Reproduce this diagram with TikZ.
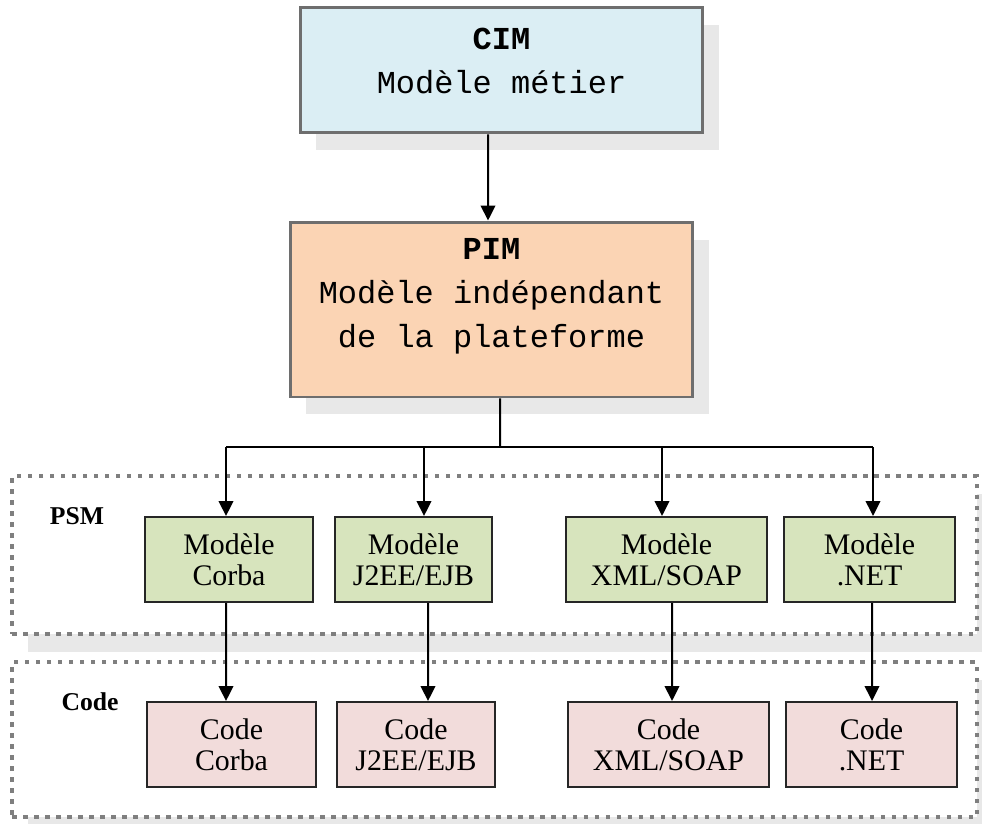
\documentclass[tikz,border=0pt]{standalone}
\usepackage{fontspec}
\setmainfont{Liberation Serif}
\setmonofont{Liberation Mono}
\usetikzlibrary{arrows.meta,shadows}

\definecolor{cimblue}{HTML}{DBEEF4}
\definecolor{pimorange}{HTML}{FBD4B4}
\definecolor{psmgreen}{HTML}{D7E4BD}
\definecolor{codepink}{HTML}{F2DCDB}
\definecolor{shadowgray}{HTML}{E8E8E8}
\definecolor{boxgray}{HTML}{6E6E6E}
\definecolor{dotgray}{HTML}{7F7F7F}

\tikzset{
  bigbox/.style={draw=boxgray, line width=0.06cm,
    drop shadow={shadow xshift=0.32cm, shadow yshift=-0.35cm, fill=shadowgray, opacity=1}},
  monotext/.style={font=\fontsize{18.2}{25}\selectfont\ttfamily, align=center},
  smallbox/.style={draw=black!85, line width=0.04cm, minimum height=1.7cm,
    font=\fontsize{17}{17.6}\selectfont, align=center},
  groupframe/.style={draw=dotgray, line width=0.09cm, dash pattern=on 0.09cm off 0.13cm,
    fill=white, minimum width=19.3cm,
    drop shadow={shadow xshift=0.32cm, shadow yshift=-0.35cm, fill=shadowgray, opacity=1}},
  grouplabel/.style={font=\fontsize{14.6}{15}\selectfont\bfseries}
}

\begin{document}
\begin{tikzpicture}[x=0.02cm, y=-0.02cm, line width=0.04cm, >={Triangle[width=0.29cm,length=0.3cm]}]
\useasboundingbox (0,0) rectangle (982,823);

\node[groupframe, minimum height=3.16cm] (psmframe) at (494.5,555) {};
\node[groupframe, minimum height=3.1cm] (codeframe) at (494.5,739.5) {};
\node[grouplabel] (psmlabel) at (77,516) {PSM};
\node[grouplabel] (codelabel) at (90,702) {Code};

\node[bigbox, fill=cimblue, minimum width=8.06cm, minimum height=2.52cm] (cim) at (501.5,70) {};
\node[monotext] (cimtext) at (501.5,61) {\textbf{CIM}\\Modèle métier};

\node[bigbox, fill=pimorange, minimum width=8.06cm, minimum height=3.5cm] (pim) at (491.5,309.5) {};
\node[monotext] (pimtext) at (491.5,296) {\textbf{PIM}\\Modèle indépendant\\de la plateforme};

\node[smallbox, fill=psmgreen, minimum width=3.36cm] (m1) at (229,559.5) {Modèle\\Corba};
\node[smallbox, fill=psmgreen, minimum width=3.14cm] (m2) at (413.5,559.5) {Modèle\\J2EE/EJB};
\node[smallbox, fill=psmgreen, minimum width=4.02cm] (m3) at (666.5,559.5) {Modèle\\XML/SOAP};
\node[smallbox, fill=psmgreen, minimum width=3.42cm] (m4) at (869.5,559.5) {Modèle\\.NET};

\node[smallbox, fill=codepink, minimum width=3.38cm] (k1) at (231.5,744.5) {Code\\Corba};
\node[smallbox, fill=codepink, minimum width=3.16cm] (k2) at (416,744.5) {Code\\J2EE/EJB};
\node[smallbox, fill=codepink, minimum width=4.02cm] (k3) at (668.5,744.5) {Code\\XML/SOAP};
\node[smallbox, fill=codepink, minimum width=3.42cm] (k4) at (871.5,744.5) {Code\\.NET};

\draw[->] ([xshift=-0.27cm]cim.south) -- ([xshift=-0.07cm]pim.north);

\coordinate (split) at (500,447);
\coordinate (b1) at (226,447);
\coordinate (b2) at (424,447);
\coordinate (b3) at (662,447);
\coordinate (b4) at (873,447);
\draw ([xshift=0.17cm]pim.south) -- (split);
\draw (b1) -- (b4);
\draw[->] (b1) -- (b1 |- m1.north);
\draw[->] (b2) -- (b2 |- m2.north);
\draw[->] (b3) -- (b3 |- m3.north);
\draw[->] (b4) -- (b4 |- m4.north);

\draw[->] ([xshift=-0.06cm]m1.south) -- ([xshift=-0.11cm]k1.north);
\draw[->] ([xshift=0.29cm]m2.south) -- ([xshift=0.24cm]k2.north);
\draw[->] ([xshift=0.11cm]m3.south) -- ([xshift=0.07cm]k3.north);
\draw[->] ([xshift=0.05cm]m4.south) -- ([xshift=0.01cm]k4.north);
\end{tikzpicture}
\end{document}
